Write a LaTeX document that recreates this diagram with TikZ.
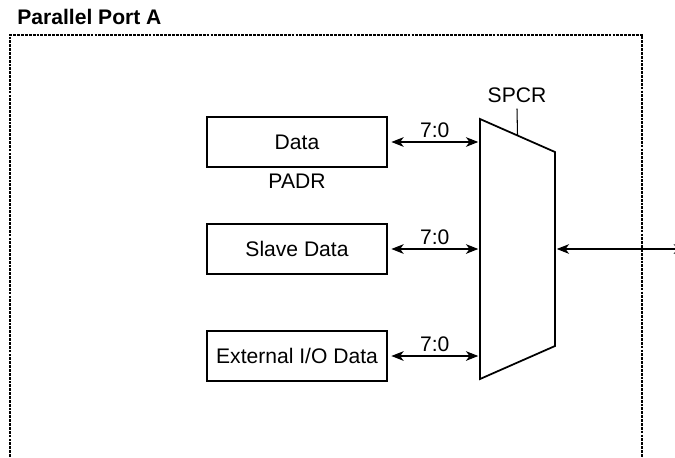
\documentclass[tikz,border=0pt]{standalone}
\usepackage{fontspec}
\setmainfont{Liberation Sans}
\usetikzlibrary{arrows.meta, calc, positioning}

\tikzset{
	regbox/.style={draw, line width=1pt, minimum width=3.6cm, minimum height=1cm, inner sep=2pt},
	bus/.style={<->, line width=0.6pt},
	buslabel/.style={midway, above=0pt, inner sep=2pt},
	portframe/.style={line width=1pt, dash pattern=on 1.6pt off 0.6pt}
}

\begin{document}
\begin{tikzpicture}[>={Stealth[length=7pt, width=5.5pt, inset=2pt]}, x=0.02cm, y=-0.02cm, line join=miter, font=\fontsize{12}{14}\selectfont]
\useasboundingbox (0,0) rectangle (675,457);
%========================
% port frame
%========================
\node[font=\bfseries\fontsize{12}{14}\selectfont, anchor=base west, inner sep=0] (title) at (17,24) {Parallel Port A};
\draw[portframe] (10,480) -- (10,35) -- (642,35) -- (642,480);

%========================
% registers
%========================
\node[regbox] (data) at (297,142) {Data};
\node[below=0pt of data] (padr) {PADR};
\node[regbox] (slave) at (297,249) {Slave Data};
\node[regbox] (extio) at (297,356) {External I/O Data};

%========================
% multiplexer
%========================
\coordinate (mux-tl) at (480,119);
\coordinate (mux-tr) at (555,152);
\coordinate (mux-br) at (555,346);
\coordinate (mux-bl) at (480,379);
\draw[line width=1pt] (mux-tl) -- (mux-tr) -- (mux-br) -- (mux-bl) -- cycle;
\node (spcr) at (517,95) {SPCR};
\draw[line width=0.6pt] (spcr.south) -- ($(mux-tl)!0.5!(mux-tr)$);

% buses 7:0
\draw[bus] ([xshift=2pt]data.east) -- ([xshift=-1pt]mux-tl |- data) node[buslabel] {7:0};
\draw[bus] ([xshift=2pt]slave.east) -- ([xshift=-1pt]mux-tl |- slave) node[buslabel] {7:0};
\draw[bus] ([xshift=2pt]extio.east) -- ([xshift=-1pt]mux-tl |- extio) node[buslabel] {7:0};

% out to the pins
\coordinate (pins) at (686,249);
\draw[bus] ([xshift=1pt]mux-tr |- slave) -- (pins);
\end{tikzpicture}
\end{document}
